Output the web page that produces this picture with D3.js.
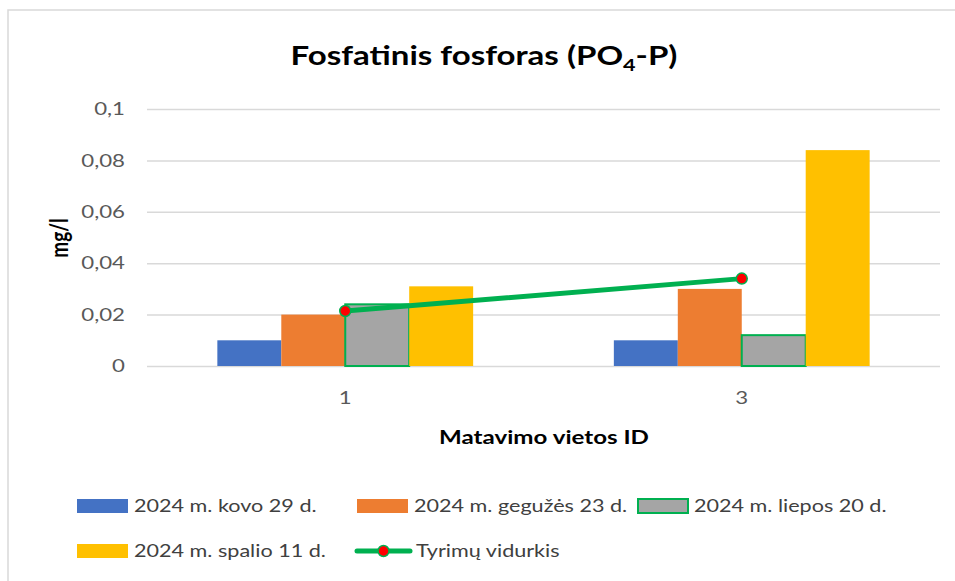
<!DOCTYPE html>
<html lang="lt">
<head>
<meta charset="UTF-8">
<title>Fosfatinis fosforas (PO4-P)</title>
<script src="https://d3js.org/d3.v7.min.js"></script>
<style>
  body { margin: 0; background: #fff; font-family: Lato, "Liberation Sans", sans-serif; }
</style>
</head>
<body>
<div id="chart"></div>
<script>
// data
const categories = ["1", "3"];
const seriesNames = ["2024 m. kovo 29 d.", "2024 m. gegužės 23 d.", "2024 m. liepos 20 d.", "2024 m. spalio 11 d."];
const kovo = [0.010, 0.010];
const geguzes = [0.020, 0.030];
const liepos = [0.024, 0.012];
const spalio = [0.031, 0.084];
const vidurkis = [0.0214, 0.034];
const lineName = "Tyrimų vidurkis";
const yTicks = [0, 0.02, 0.04, 0.06, 0.08, 0.1];

const colors = ["#4472C4", "#ED7D31", "#A5A5A5", "#FFC000"];
const green = "#00B050";
const SX = 1.27; // the source picture is stretched sideways, so text is widened to match

const W = 955, H = 581;
const plot = {left: 147, right: 940, top: 109, bottom: 366};

// widen a text element horizontally, keeping its anchor point in place
function stretch(sel) {
    sel.each(function () {
        const t = d3.select(this);
        const x = +t.attr("x") || 0;
        t.attr("x", x / SX).attr("transform", `scale(${SX},1)`);
    });
}

const svg = d3.select("#chart").append("svg")
    .attr("width", W).attr("height", H);

// chart frame (only top and left edges are in view)
svg.append("path")
    .attr("d", `M8,${H} L8,10 L${W},10`)
    .attr("fill", "none")
    .attr("stroke", "#d9d9d9")
    .attr("stroke-width", 1.5);

const x0 = d3.scaleBand().domain(categories).range([plot.left, plot.right]).padding(0);
const x1 = d3.scaleBand().domain(d3.range(seriesNames.length))
    .range([0, x0.bandwidth()]).paddingInner(0).paddingOuter(1.1);
const y = d3.scaleLinear().domain([0, 0.1]).range([plot.bottom, plot.top]);

const fmt = d => String(+d.toFixed(2)).replace(".", ",");

// gridlines + y labels
const yAxis = svg.append("g")
    .attr("transform", `translate(${plot.left},0)`)
    .call(d3.axisLeft(y).tickValues(yTicks).tickFormat(fmt)
        .tickSize(-(plot.right - plot.left)).tickPadding(22));
yAxis.select(".domain").remove();
yAxis.selectAll(".tick line").attr("stroke", "#d9d9d9").attr("stroke-width", 1.5);
yAxis.selectAll(".tick text")
    .attr("fill", "#595959")
    .style("font-size", "17.5px")
    .style("font-family", "Lato, sans-serif")
    .call(stretch);

// bars
const allSeries = [kovo, geguzes, liepos, spalio];
allSeries.forEach((vals, si) => {
    svg.append("g").selectAll("rect")
        .data(vals)
        .join("rect")
        .attr("x", (d, i) => x0(categories[i]) + x1(si))
        .attr("y", d => y(d))
        .attr("width", x1.bandwidth())
        .attr("height", d => y(0) - y(d))
        .attr("fill", colors[si])
        .attr("stroke", si === 2 ? green : "none")
        .attr("stroke-width", si === 2 ? 2 : 0);
});

// average line
const cx = (d, i) => x0(categories[i]) + x0.bandwidth() / 2;
svg.append("path")
    .datum(vidurkis)
    .attr("fill", "none")
    .attr("stroke", green)
    .attr("stroke-width", 5)
    .attr("stroke-linecap", "round")
    .attr("d", d3.line().x(cx).y(d => y(d)));
svg.append("g").selectAll("circle")
    .data(vidurkis)
    .join("circle")
    .attr("cx", cx)
    .attr("cy", d => y(d))
    .attr("r", 5.5)
    .attr("fill", "#FF0000")
    .attr("stroke", green)
    .attr("stroke-width", 1.5);

// x labels
const xAxis = svg.append("g")
    .attr("transform", `translate(0,${plot.bottom})`)
    .call(d3.axisBottom(x0).tickSize(0).tickPadding(26));
xAxis.select(".domain").remove();
xAxis.selectAll(".tick text")
    .attr("fill", "#595959")
    .style("font-size", "17.5px")
    .style("font-family", "Lato, sans-serif")
    .call(stretch);

// titles
const title = svg.append("text")
    .attr("x", 484).attr("y", 65)
    .attr("text-anchor", "middle")
    .style("font-size", "26px").style("font-weight", "bold")
    .attr("fill", "#000");
title.append("tspan").text("Fosfatinis fosforas (PO");
title.append("tspan").attr("dy", 6).style("font-size", "17px").text("4");
title.append("tspan").attr("dy", -6).text("-P)");
title.call(stretch);

svg.append("text")
    .attr("x", 544).attr("y", 444)
    .attr("text-anchor", "middle")
    .style("font-size", "19px").style("font-weight", "bold")
    .attr("fill", "#000")
    .text("Matavimo vietos ID")
    .call(stretch);

svg.append("text")
    .attr("transform", `translate(60,238) scale(${SX},1) rotate(-90)`)
    .attr("dy", "0.35em")
    .attr("text-anchor", "middle")
    .style("font-size", "19px").style("font-weight", "bold")
    .attr("fill", "#000")
    .text("mg/l");

// legend
const legendPos = [[77, 506], [357, 506], [637, 506], [77, 551]];
const leg = svg.append("g");
seriesNames.forEach((name, i) => {
    const [lx, ly] = legendPos[i];
    leg.append("rect")
        .attr("x", i === 2 ? lx + 1 : lx).attr("y", ly - 7)
        .attr("width", i === 2 ? 50 : 51).attr("height", 14)
        .attr("fill", colors[i])
        .attr("stroke", i === 2 ? green : "none")
        .attr("stroke-width", 2);
    leg.append("text")
        .attr("x", lx + 57).attr("y", ly + 6)
        .style("font-size", "17px")
        .attr("fill", "#404040")
        .text(name)
        .call(stretch);
});
leg.append("line")
    .attr("x1", 357).attr("x2", 410).attr("y1", 551).attr("y2", 551)
    .attr("stroke", green).attr("stroke-width", 5).attr("stroke-linecap", "round");
leg.append("circle")
    .attr("cx", 383.5).attr("cy", 551).attr("r", 5.5)
    .attr("fill", "#FF0000").attr("stroke", green).attr("stroke-width", 1.5);
leg.append("text")
    .attr("x", 416).attr("y", 557)
    .style("font-size", "17px")
    .attr("fill", "#404040")
    .text(lineName)
    .call(stretch);
</script>
</body>
</html>
